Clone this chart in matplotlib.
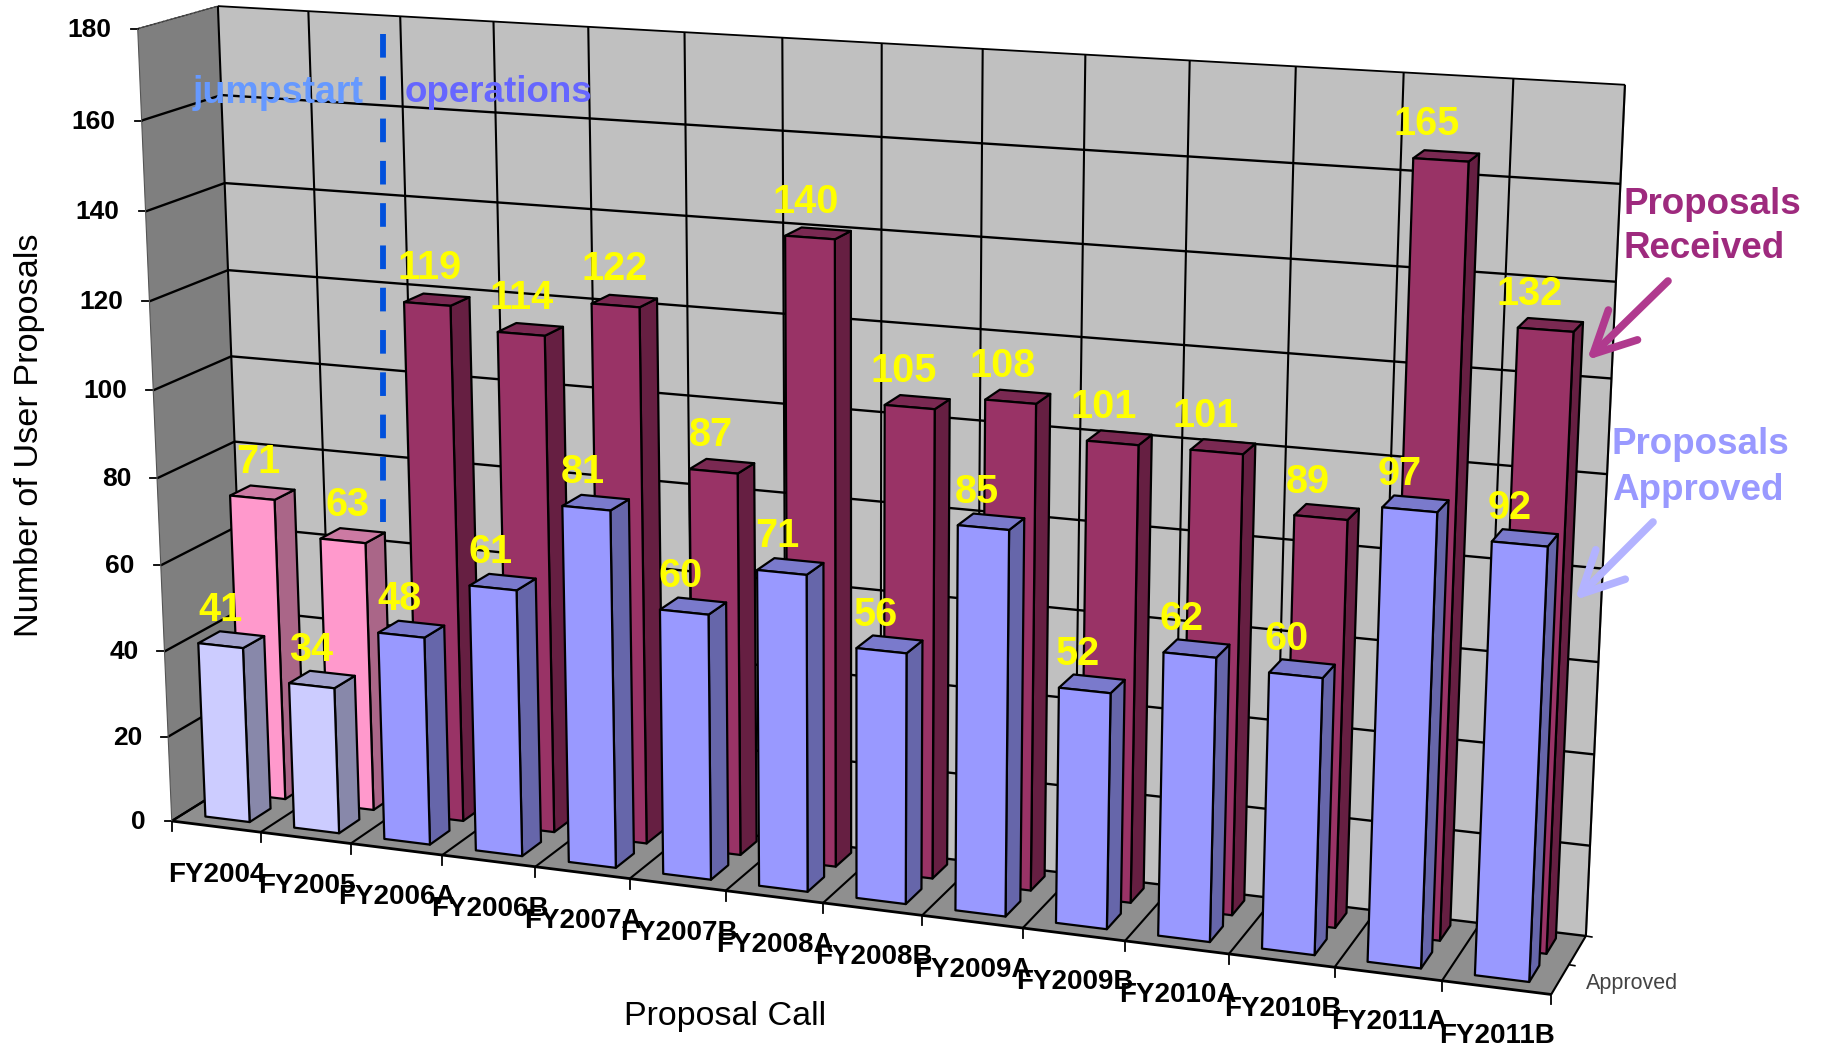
"""User proposals per call, drawn as a 3D column chart with a fitted perspective."""

import matplotlib
matplotlib.use("Agg")
import matplotlib.pyplot as plt
import numpy as np
from matplotlib.patches import FancyArrowPatch, Polygon

plt.rcParams["font.family"] = ["Liberation Sans", "DejaVu Sans"]

calls = ["FY2004", "FY2005", "FY2006A", "FY2006B", "FY2007A", "FY2007B", "FY2008A",
         "FY2008B", "FY2009A", "FY2009B", "FY2010A", "FY2010B", "FY2011A", "FY2011B"]
received = [71, 63, 119, 114, 122, 87, 140, 105, 108, 101, 101, 89, 165, 132]
approved = [41, 34, 48, 61, 81, 60, 71, 56, 85, 52, 62, 60, 97, 92]
value_ticks = [0, 20, 40, 60, 80, 100, 120, 140, 160, 180]

# frame calibration: (category, depth, value) -> pixel
FRAME_WORLD = [(0, 0, 0), (14, 0, 0), (0, 0, 180), (0, 1, 0), (14, 1, 0), (0, 1, 180), (14, 1, 180),
               (7, 0, 0), (7, 1, 180), (0, 0, 100), (0, 1, 100), (14, 1, 100)]
FRAME_PIXEL = [(173, 820), (1552, 996), (136, 29.5), (246, 776), (1586, 935), (218, 6), (1625, 85),
               (822, 902), (883, 43), (154, 390), (232, 355.5), (1606, 474)]

N_JUMPSTART = 2
BAR_SPAN = (0.25, 0.75)
FRONT_DEPTH = (0.15, 0.43)
BACK_DEPTH = (0.63, 0.90)
BAR_Z = 3


def fit_camera(world, pixel):
    """Least squares projection matrix (DLT) from frame corners."""
    rows = []
    for (u, d, z), (px, py) in zip(world, pixel):
        p = [u / 14, d, z / 180, 1]
        rows.append(p + [0, 0, 0, 0] + [-px * c for c in p])
        rows.append([0, 0, 0, 0] + p + [-py * c for c in p])
    _, _, vt = np.linalg.svd(np.array(rows, dtype=float))
    return vt[-1].reshape(3, 4)


CAMERA = fit_camera(FRAME_WORLD, FRAME_PIXEL)


def project(u, d, z):
    h = CAMERA @ np.array([u / 14, d, z / 180, 1.0])
    return h[0] / h[2], h[1] / h[2]


def face(ax, corners, color, edge="black", lw=1.6, zorder=1):
    ax.add_patch(Polygon([project(*c) for c in corners], closed=True, facecolor=color,
                         edgecolor=edge, linewidth=lw, joinstyle="round", zorder=zorder))


def line3d(ax, a, b, **kw):
    pa, pb = project(*a), project(*b)
    ax.plot([pa[0], pb[0]], [pa[1], pb[1]], color=kw.pop("color", "black"),
            linewidth=kw.pop("linewidth", 1.6), solid_capstyle="butt", **kw)


def bar3d(ax, i, depth, value, colors):
    x0, x1 = i + BAR_SPAN[0], i + BAR_SPAN[1]
    d0, d1 = depth
    front, side, top = colors
    face(ax, [(x1, d0, 0), (x1, d1, 0), (x1, d1, value), (x1, d0, value)], side, zorder=BAR_Z)
    face(ax, [(x0, d0, value), (x1, d0, value), (x1, d1, value), (x0, d1, value)], top, zorder=BAR_Z)
    face(ax, [(x0, d0, 0), (x1, d0, 0), (x1, d0, value), (x0, d0, value)], front, zorder=BAR_Z)


fig = plt.figure(figsize=(18.26, 10.5), dpi=100)
ax = fig.add_axes([0, 0, 1, 1])
ax.set_xlim(0, 1826)
ax.set_ylim(1050, 0)
ax.axis("off")

n = len(calls)
top_value = value_ticks[-1]

# walls and floor
face(ax, [(0, 1, 0), (n, 1, 0), (n, 1, top_value), (0, 1, top_value)], "#C0C0C0", edge="none", lw=0)
face(ax, [(0, 0, 0), (0, 1, 0), (0, 1, top_value), (0, 0, top_value)], "#7F7F7F", edge="none", lw=0)
face(ax, [(0, 0, 0), (n, 0, 0), (n, 1, 0), (0, 1, 0)], "#8F8F8F", edge="none", lw=0)
line3d(ax, (n, 1, 0), (n, 1, top_value), color="#8A8A8A", linewidth=1.5)
line3d(ax, (0, 0, 0), (0, 1, 0), color="#222222", linewidth=1, linestyle=(0, (2, 2)))
line3d(ax, (0, 0, top_value), (0, 1, top_value), color="#333333", linewidth=1, linestyle=(0, (2, 1)))

# gridlines and ticks
for v in value_ticks:
    line3d(ax, (0, 1, v), (n, 1, v), linewidth=1.7 if v < top_value else 1.3)
    line3d(ax, (0, 0, v), (0, 1, v), linewidth=1.7 if v < top_value else 0.8,
           color="black" if v < top_value else "#444444")
    tx, ty = project(0, 0, v)
    ax.plot([tx - 7, tx], [ty, ty], color="black", linewidth=1.3)
    ax.text(tx - 26, ty + 1, str(v), ha="right", va="center", fontsize=19, fontweight="bold")
for i in range(n + 1):
    line3d(ax, (i, 1, 0), (i, 1, top_value), linewidth=1.5)
    line3d(ax, (i, 0, 0), (i, 1, 0), linewidth=1.5)
    tx, ty = project(i, 0, 0)
    ax.plot([tx, tx], [ty, ty + 10], color="black", linewidth=1.3)
line3d(ax, (0, 0, 0), (n, 0, 0), linewidth=2.0)
line3d(ax, (0, 0, 0), (0, 0, top_value), color="#555555", linewidth=0.8)
for d in (0.5, 1.0):
    tx, ty = project(n, d, 0)
    ax.plot([tx, tx + 6], [ty, ty + 1], color="black", linewidth=1.2)

# columns, back row first
for i, v in enumerate(received):
    colors = ("#FF99CC", "#AA6688", "#CC7AA3") if i < N_JUMPSTART else ("#993366", "#661F42", "#7A2952")
    bar3d(ax, i, BACK_DEPTH, v, colors)
for i, v in enumerate(approved):
    colors = ("#CCCCFF", "#8888AA", "#A3A3CC") if i < N_JUMPSTART else ("#9999FF", "#6666AA", "#7A7ACC")
    bar3d(ax, i, FRONT_DEPTH, v, colors)

# value labels float above the front top edge of each column
for i, v in enumerate(received):
    px, py = project(i + 0.5, BACK_DEPTH[0], v)
    ax.text(px + 6 - 1.7 * i, py - 36, str(v), ha="center", va="center", color="#FFFF00",
            fontsize=28.5, fontweight="bold", zorder=5)
for i, v in enumerate(approved):
    px, py = project(i + 0.5, FRONT_DEPTH[0], v)
    ax.text(px - 0.8 * i, py - 36, str(v), ha="center", va="center", color="#FFFF00",
            fontsize=28.5, fontweight="bold", zorder=5)

# category labels sit under the middle of each floor cell
for i, name in enumerate(calls):
    px, py = project(i + 0.5, 0, 0)
    ax.text(px + 1, py + 48, name, ha="center", va="center", fontsize=20, fontweight="bold")

ax.text(30, 435, "Number of User Proposals", rotation=90, ha="center", va="center", fontsize=24.7)
ax.text(725, 1017, "Proposal Call", ha="center", va="center", fontsize=24.5)
ax.text(1632, 984, "Approved", ha="center", va="center", fontsize=15.5, color="#444444")

# annotations
ax.plot([383, 383], [34, 522], color="#0050DC", linewidth=4.2, dash_capstyle="butt",
        linestyle=(0, (4.05, 3.2)), zorder=5)
ax.text(278, 93, "jumpstart", ha="center", va="center", color="#6699FF", fontsize=27, fontweight="bold", zorder=5)
ax.text(498, 93, "operations", ha="center", va="center", color="#6666FF", fontsize=26.5, fontweight="bold", zorder=5)
ax.text(1624, 204, "Proposals", ha="left", va="center", color="#9E2A7E", fontsize=26.5, fontweight="bold")
ax.text(1624, 249, "Received", ha="left", va="center", color="#9E2A7E", fontsize=26.5, fontweight="bold")
ax.text(1612, 445, "Proposals", ha="left", va="center", color="#9999FF", fontsize=26.5, fontweight="bold")
ax.text(1612, 490, "Approved", ha="left", va="center", color="#9999FF", fontsize=26.5, fontweight="bold")
ax.add_patch(FancyArrowPatch((1668, 281), (1587, 360), arrowstyle="->,head_length=1.5,head_width=0.75",
                             mutation_scale=20, color="#B03A8E", linewidth=5.5, shrinkA=0, shrinkB=0,
                             zorder=6))
ax.add_patch(FancyArrowPatch((1653, 522), (1575, 600), arrowstyle="->,head_length=1.5,head_width=0.75",
                             mutation_scale=20, color="#B3B3FF", linewidth=5.5, shrinkA=0, shrinkB=0,
                             zorder=6))

fig.savefig("out.png", dpi=100, facecolor="white")
plt.close(fig)
